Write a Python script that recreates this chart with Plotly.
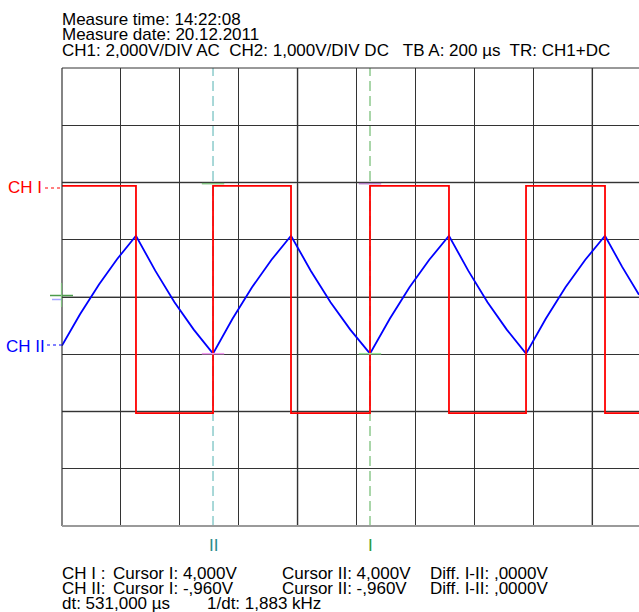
import plotly.graph_objects as go

# ---------------- data (time in divisions, value in divisions) ----------------
ch1_edges = [1.256, 2.564, 3.888, 5.229, 6.570, 7.878, 9.219]   # switching instants
ch1_levels = [1.94, -2.03]                                        # high / low level

ch2_t = [0, 0.306, 0.628, 0.934, 1.256, 1.583, 1.910, 2.237, 2.564, 2.895, 3.226,
         3.557, 3.888, 4.223, 4.559, 4.894, 5.229, 5.565, 5.900, 6.235, 6.570,
         6.897, 7.224, 7.551, 7.878, 8.213, 8.548, 8.884, 9.219, 9.508, 9.796]
ch2_v = [-0.85, -0.30, 0.22, 0.66, 1.07, 0.46, -0.09, -0.57, -0.99, -0.38, 0.17,
         0.65, 1.07, 0.46, -0.09, -0.57, -0.99, -0.38, 0.17, 0.65, 1.07,
         0.46, -0.09, -0.57, -0.99, -0.38, 0.17, 0.65, 1.07, 0.53, 0.04]

cursor_names = ["II", "I"]
cursor_t = [2.564, 5.229]
cursor_ch1 = [1.94, 1.94]
cursor_ch2 = [-0.99, -0.99]

header_lines = ["Measure time: 14:22:08", "Measure date: 20.12.2011",
                "CH1: 2,000V/DIV AC  CH2: 1,000V/DIV DC   TB A: 200 \u00b5s  TR: CH1+DC"]
footer_rows = [
    ["CH I :", "Cursor I: 4,000V", "Cursor II: 4,000V", "Diff. I-II: ,0000V"],
    ["CH II:", "Cursor I: -,960V", "Cursor II: -,960V", "Diff. I-II: ,0000V"],
]
footer_dt = ["dt: 531,000 \u00b5s", "1/dt: 1,883 kHz"]

# ---------------- geometry ----------------
W, H = 639, 612
ML, MT, MR, MB = 62, 68, 0, 86
PW, PH = W - ML - MR, H - MT - MB
X_MAX = 9.796
Y_MIN, Y_MAX = -4, 4

def px(x):
    return (x - ML) / PW

def py(y):
    return (H - MB - y) / PH

FONT = "Liberation Sans, Arial, sans-serif"
FS = 17

# build square wave from edges
sq_x, sq_y = [0], [ch1_levels[0]]
lvl = 0
for e in ch1_edges:
    sq_x += [e, e]
    sq_y += [ch1_levels[lvl], ch1_levels[1 - lvl]]
    lvl = 1 - lvl
sq_x.append(X_MAX)
sq_y.append(ch1_levels[lvl])

fig = go.Figure()

cur_line_col = ["#93cfcf", "#94cc94"]
cur_lab_col = ["#2a8c8c", "#2a9a3a"]
for i, t in enumerate(cursor_t):
    fig.add_trace(go.Scatter(x=[t, t], y=[Y_MIN, Y_MAX], mode="lines",
                             line=dict(color=cur_line_col[i], width=1.6, dash="10px,5px"),
                             hoverinfo="skip", showlegend=False))

fig.add_trace(go.Scatter(x=ch2_t, y=ch2_v, mode="lines",
                         line=dict(color="#0000ff", width=1.8), showlegend=False))
fig.add_trace(go.Scatter(x=sq_x, y=sq_y, mode="lines",
                         line=dict(color="#ff0000", width=1.8), showlegend=False))

# cursor markers on traces
mk_ch1 = ["#7fc07f", "#b27fc4"]
mk_ch2 = ["#f29af2", "#9be89b"]
hw = 0.19
for i, t in enumerate(cursor_t):
    fig.add_trace(go.Scatter(x=[t - hw, t + hw], y=[cursor_ch1[i] + 0.04] * 2, mode="lines",
                             line=dict(color=mk_ch1[i], width=1.5), showlegend=False))
    fig.add_trace(go.Scatter(x=[t - hw, t + hw], y=[cursor_ch2[i]] * 2, mode="lines",
                             line=dict(color=mk_ch2[i], width=1.5), showlegend=False))

shapes = []
# lighter grid lines (antialiased in the original)
for gx in [4, 9]:
    shapes.append(dict(type="line", xref="x", yref="paper", x0=gx, x1=gx, y0=0, y1=1,
                       line=dict(color="#a8a8a8", width=2), layer="below"))
for gy in [2, 0, -2]:
    shapes.append(dict(type="line", xref="paper", yref="y", x0=0, x1=1, y0=gy, y1=gy,
                       line=dict(color="#a8a8a8", width=2), layer="below"))
# border
shapes.append(dict(type="line", xref="paper", yref="paper", x0=0, x1=1, y0=1, y1=1,
                   line=dict(color="#333333", width=1)))
shapes.append(dict(type="line", xref="paper", yref="paper", x0=0, x1=0, y0=0, y1=1,
                   line=dict(color="#333333", width=1.2)))
shapes.append(dict(type="line", xref="paper", yref="paper", x0=0, x1=1, y0=0, y1=0,
                   line=dict(color="#9a9a9a", width=2)))
# channel reference markers on the left
shapes.append(dict(type="line", xref="paper", yref="paper", x0=px(45), x1=px(62),
                   y0=py(188), y1=py(188), line=dict(color="#ff0000", width=1, dash="dot")))
shapes.append(dict(type="line", xref="paper", yref="paper", x0=px(47), x1=px(62),
                   y0=py(345), y1=py(345), line=dict(color="#0000ff", width=1, dash="dot")))
# ground cross
shapes.append(dict(type="line", xref="paper", yref="paper", x0=px(50), x1=px(73),
                   y0=py(295.5), y1=py(295.5), line=dict(color="#4c9c4c", width=1.5)))
shapes.append(dict(type="line", xref="paper", yref="paper", x0=px(61.5), x1=px(61.5),
                   y0=py(283), y1=py(307), line=dict(color="#7fbf7f", width=1.2)))
shapes.append(dict(type="line", xref="paper", yref="paper", x0=px(52), x1=px(61),
                   y0=py(299.5), y1=py(299.5), line=dict(color="#a6a6ff", width=1.5)))

ann = []
tf = dict(family=FONT, size=FS, color="#000000")
for i, line in enumerate(header_lines):
    ann.append(dict(text=line, xref="paper", yref="paper", x=px(60), y=py(19 + 15.5 * i),
                    xanchor="left", yanchor="middle", showarrow=False, font=tf))
col_x = [62, 113, 282, 430]
for r, row in enumerate(footer_rows):
    for c, txt in enumerate(row):
        ann.append(dict(text=txt, xref="paper", yref="paper", x=px(col_x[c] - 2),
                        y=py(573 + 15.5 * r), xanchor="left", yanchor="middle",
                        showarrow=False, font=tf))
for c, txt in enumerate(footer_dt):
    ann.append(dict(text=txt, xref="paper", yref="paper", x=px([62, 207][c] - 2),
                    y=py(603), xanchor="left", yanchor="middle", showarrow=False, font=tf))
# channel labels
ann.append(dict(text="CH I", xref="paper", yref="paper", x=px(44), y=py(188),
                xanchor="right", yanchor="middle", showarrow=False,
                font=dict(family=FONT, size=FS, color="#ff0000")))
ann.append(dict(text="CH II", xref="paper", yref="paper", x=px(47), y=py(346),
                xanchor="right", yanchor="middle", showarrow=False,
                font=dict(family=FONT, size=FS, color="#0000ff")))
# cursor labels
for i, t in enumerate(cursor_t):
    ann.append(dict(text=cursor_names[i], x=t, xref="x", yref="paper", y=py(545),
                    xanchor="center", yanchor="middle", showarrow=False,
                    font=dict(family=FONT, size=FS, color=cur_lab_col[i])))

fig.update_layout(
    width=W, height=H,
    margin=dict(l=ML, r=MR, t=MT, b=MB, pad=0),
    paper_bgcolor="white", plot_bgcolor="white",
    shapes=shapes, annotations=ann,
    xaxis=dict(range=[0, X_MAX], dtick=1, tick0=0, showgrid=True, gridcolor="#333333",
               gridwidth=1, zeroline=False, showticklabels=False, ticks="", showline=False,
               fixedrange=True),
    yaxis=dict(range=[Y_MIN, Y_MAX], dtick=1, tick0=0, showgrid=True, gridcolor="#333333",
               gridwidth=1, zeroline=False, showticklabels=False, ticks="", showline=False,
               fixedrange=True),
    showlegend=False,
)

fig.write_html("out.html", config={"displayModeBar": False})
